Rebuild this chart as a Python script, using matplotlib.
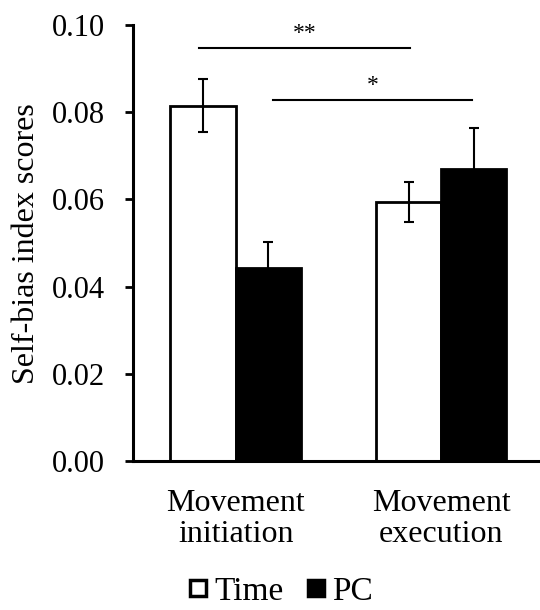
import numpy as np
import matplotlib
matplotlib.use('Agg')
import matplotlib.pyplot as plt
from matplotlib.lines import Line2D

plt.rcParams['font.family'] = ['Liberation Serif', 'DejaVu Serif']

groups = ['Movement\ninitiation', 'Movement\nexecution']
time_means = [0.0815, 0.0594]
time_err = [0.0061, 0.0045]
pc_means = [0.0442, 0.0670]
pc_err = [0.0061, 0.0094]

# significance bars: (x start, x end, height, label)
sig_x0 = [-0.18, 0.18]
sig_x1 = [0.85, 1.15]
sig_y = [0.0947, 0.0827]
sig_labels = ['**', '*']


def style_axis(axis):
  for side in ('top', 'right'):
    axis.spines[side].set_visible(False)
  axis.spines['left'].set_linewidth(2.2)
  axis.spines['bottom'].set_linewidth(2.2)
  axis.tick_params(axis='y', direction='out', length=6, width=2,
                   pad=14, labelsize=22)
  axis.tick_params(axis='x', length=0, pad=20, labelsize=23)


fig = plt.figure(figsize=(5.4, 6.1), dpi=100)
ax = fig.add_axes([0.246, 0.244, 0.754, 0.715])

x = np.arange(len(groups))
width = 0.317
err_kw = dict(ecolor='black', elinewidth=1.5, capsize=3.5, capthick=1.5)
ax.bar(x - width / 2, time_means, width, yerr=time_err, color='white',
       edgecolor='black', linewidth=2, error_kw=err_kw, label='Time')
ax.bar(x + width / 2, pc_means, width, yerr=pc_err, color='black',
       edgecolor='black', linewidth=2, error_kw=err_kw, label='PC')

for x0, x1, y, lab in zip(sig_x0, sig_x1, sig_y, sig_labels):
  ax.plot([x0, x1], [y, y], color='black', linewidth=1.5, clip_on=False)
  ax.text((x0 + x1) / 2, y + 0.0010, lab, ha='center', va='bottom',
          fontsize=17)

ax.set_xlim(-0.5, 1.48)
ax.set_ylim(0, 0.10)
ax.set_yticks(np.arange(0, 0.101, 0.02))
ax.set_yticklabels([f'{v:.2f}' for v in np.arange(0, 0.101, 0.02)])
ax.set_xticks(x)
ax.set_xticklabels(groups, linespacing=1.1)
style_axis(ax)

fig.text(0.05, 0.6, 'Self-bias index scores', rotation=90,
         ha='center', va='center', fontsize=23)

handles = [
    Line2D([], [], linestyle='none', marker='s', markersize=12,
           markerfacecolor='white', markeredgecolor='black',
           markeredgewidth=2.5),
    Line2D([], [], linestyle='none', marker='s', markersize=12,
           markerfacecolor='black', markeredgecolor='black',
           markeredgewidth=2.5),
]
fig.legend(handles, ['Time', 'PC'], loc='center', bbox_to_anchor=(0.518, 0.03),
           ncol=2, frameon=False, fontsize=24, handlelength=0.7,
           handletextpad=0.15, columnspacing=0.6, borderaxespad=0)

fig.savefig('out.png', dpi=100)
